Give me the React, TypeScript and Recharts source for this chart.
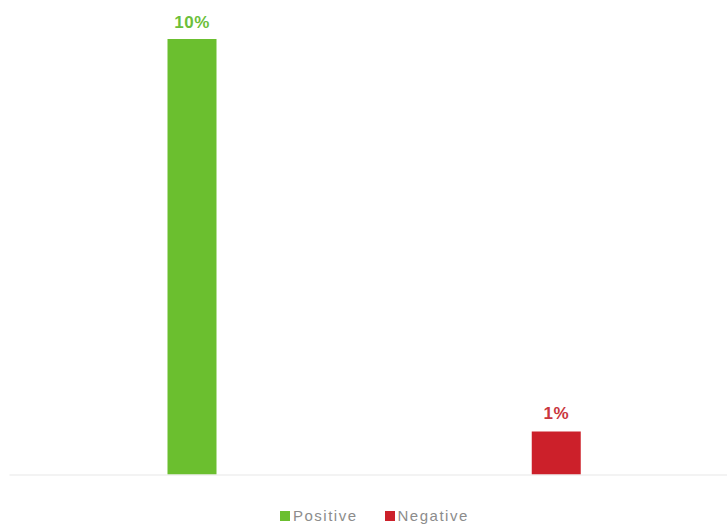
import { BarChart, Bar, XAxis, YAxis, Legend, LabelList, ReferenceLine } from 'recharts'

const categories = ['Positive', 'Negative']
const positiveValues = [10, null]
const negativeValues = [null, 1]

const GREEN = '#6bbf2f'
const RED = '#cc202a'

const data = categories.map((name, i) => ({
  name,
  Positive: positiveValues[i],
  Negative: negativeValues[i],
}))

const fmt = (v: unknown) => (v == null ? '' : `${v}%`)

function LegendContent({ payload }: { payload?: { value: string; color: string }[] }) {
  // stacked bars come back in reverse order, keep the category order
  const items = [...(payload || [])].sort((a, b) => categories.indexOf(a.value) - categories.indexOf(b.value))
  return (
    <div style={{ display: 'flex', alignItems: 'center', fontFamily: "'Liberation Sans', Arial, sans-serif" }}>
      {items.map((p) => (
        <div key={p.value} style={{ display: 'flex', alignItems: 'center', marginRight: 27 }}>
          <span style={{ width: 10, height: 10, background: p.color, display: 'inline-block', marginRight: 3 }} />
          <span style={{ fontSize: 15, letterSpacing: 1.5, color: '#8c8c8c' }}>{p.value}</span>
        </div>
      ))}
    </div>
  )
}

export default function App() {
  return (
    <div style={{ position: 'absolute', left: 0, top: 0, width: 727, height: 526, overflow: 'hidden', background: '#fff' }}>
      <BarChart
        width={738}
        height={526}
        data={data}
        margin={{ top: 39, right: 0, left: 9.5, bottom: 34 }}
        style={{ fontFamily: "'Liberation Sans', Arial, sans-serif" }}
      >
        <XAxis dataKey="name" hide />
        <YAxis hide domain={[0, 10]} />
        <ReferenceLine y={0} stroke="#efefef" strokeWidth={1.5} />
        <Legend
          content={<LegendContent />}
          wrapperStyle={{ left: 280, top: 507, width: 'auto' }}
        />
        <Bar dataKey="Positive" stackId="a" fill={GREEN} barSize={49} isAnimationActive={false}>
          <LabelList
            dataKey="Positive"
            position="top"
            offset={11}
            formatter={fmt}
            style={{ fill: '#6cbf3a', fontSize: 17, fontWeight: 'bold', letterSpacing: 0.5 }}
          />
        </Bar>
        <Bar dataKey="Negative" stackId="a" fill={RED} barSize={49} isAnimationActive={false}>
          <LabelList
            dataKey="Negative"
            position="top"
            offset={12}
            formatter={fmt}
            style={{ fill: '#c9363d', fontSize: 17, fontWeight: 'bold', letterSpacing: 0.5 }}
          />
        </Bar>
      </BarChart>
    </div>
  )
}
